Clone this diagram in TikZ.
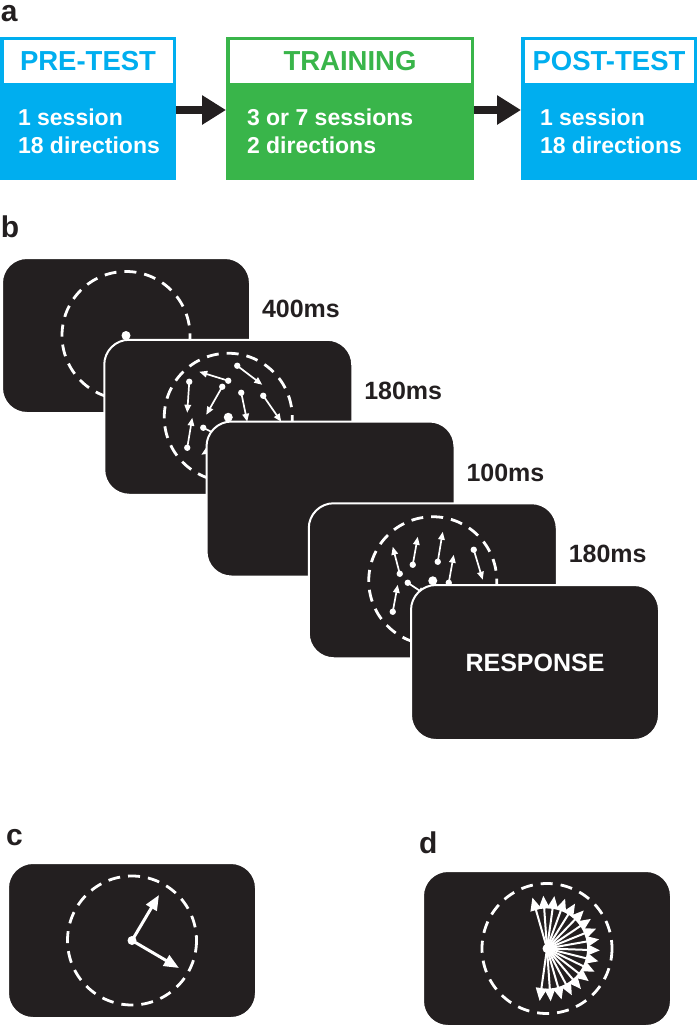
\documentclass[tikz,border=0pt]{standalone}
\usepackage{fontspec}
\setmainfont{Liberation Sans}
\usepackage{tikz}
\usetikzlibrary{arrows.meta,calc,positioning,shapes}
\definecolor{cyanblue}{RGB}{0,174,239}
\definecolor{trgreen}{RGB}{57,181,74}
\definecolor{scrdark}{RGB}{35,31,32}

\begin{document}
\begin{tikzpicture}[x=1pt,y=-1pt,->,>={Triangle[length=8pt,width=6.5pt]},
semithick]
\tikzstyle{every node}=[font=\bfseries,inner sep=0pt,outer sep=0pt]
\tikzstyle{stage}=[minimum height=143pt]
\tikzstyle{header}=[fill=white,minimum height=43pt,font=\fontsize{27.5}{30}\selectfont\bfseries]
\tikzstyle{body}=[text=white,align=left,font=\fontsize{23}{27.5}\selectfont\bfseries]
\tikzstyle{display}=[fill=scrdark,draw=white,line width=2pt,rounded corners=25pt,minimum width=248pt,minimum height=155pt]
\tikzstyle{timing}=[text=scrdark,font=\fontsize{25}{30}\selectfont\bfseries]
\tikzstyle{panel}=[text=scrdark,font=\fontsize{30}{36}\selectfont\bfseries]
\tikzstyle{aperture}=[-,white,line width=2.8pt,dash pattern=on 12pt off 8pt]
\tikzstyle{motion}=[white,line width=1.7pt]
\tikzstyle{stepflow}=[scrdark,line width=8pt,-{Triangle[length=24pt,width=28pt]}]

\useasboundingbox (0,0) rectangle (697,1028);

\node[panel,anchor=base west] (la) at (1,21) {a};
\node[stage,fill=cyanblue,minimum width=176pt] (pretest) at (88,108.5) {};
\node[stage,fill=trgreen,minimum width=248pt,right=50pt of pretest] (training) {};
\node[stage,fill=cyanblue,minimum width=176pt,right=47pt of training] (posttest) {};
\node[header,text=cyanblue,minimum width=169pt,below=3pt of pretest.north] (prehead) {PRE-TEST};
\node[header,text=trgreen,minimum width=241pt,below=3pt of training.north] (trainhead) {TRAINING};
\node[header,text=cyanblue,minimum width=169pt,below=3pt of posttest.north] (posthead) {POST-TEST};
\node[body,anchor=west] (prebody) at ($(pretest.west)+(18,23)$) {1 session\\18 directions};
\node[body,anchor=west] (trainbody) at ($(training.west)+(21,23)$) {3 or 7 sessions\\2 directions};
\node[body,anchor=west] (postbody) at ($(posttest.west)+(19,23)$) {1 session\\18 directions};
\draw[stepflow] ([yshift=-1.5pt]pretest.east) -- ([yshift=-1.5pt]training.west);
\draw[stepflow] ([yshift=-1.5pt]training.east) -- ([yshift=-1.5pt]posttest.west);

\node[panel,anchor=base west] (lb) at (1,237) {b};
\node[display] (scr1) at (126,335.5) {};
\draw[aperture] (scr1.center) circle (64);
\fill[white] (scr1.center) circle (4.5);
\node[timing,right=12pt of scr1.east,yshift=26.5pt] (t1) {400ms};

\node[display] (scr2) at (228.25,417.25) {};
\begin{scope}[shift={(scr2.center)}]
\draw[aperture] (0,0) circle (64);
\fill[white] (0,0) circle (4.5);
\foreach \sx/\sy/\ex/\ey in {9/-51.5/34/-32.5,0/-36.5/-29/-45.5,-39/-35.5/-41/-4.5,
-6/-30.5/-22/-2.5,13/-24.5/19/4.5,35/-21.5/53/4.5,-41/30.5/-36/0.5,-25/10.5/-1/22.5,
-3/22.5/-27/37.5}{
\fill[white] (\sx,\sy) circle (3.2);
\draw[motion] (\sx,\sy) -- (\ex,\ey);
}
\end{scope}
\node[timing,right=12pt of scr2.east,yshift=26.5pt] (t2) {180ms};

\node[display] (scr3) at (330.5,499) {};
\node[timing,right=12pt of scr3.east,yshift=26.5pt] (t3) {100ms};

\node[display] (scr4) at (432.75,580.75) {};
\begin{scope}[shift={(scr4.center)}]
\draw[aperture] (0,0) circle (64);
\fill[white] (0,0) circle (4.5);
\foreach \sx/\sy/\ex/\ey in {-33/-7/-40/-34,-20/-16/-15/-44,5/-19/10/-49,16/2/21/-26,
41/-31/50/-1,-40/31/-35/4,-25/2/-7/14}{
\fill[white] (\sx,\sy) circle (3.2);
\draw[motion] (\sx,\sy) -- (\ex,\ey);
}
\end{scope}
\node[timing,right=12pt of scr4.east,yshift=26.5pt] (t4) {180ms};

\node[display,text=white,font=\fontsize{25}{30}\selectfont\bfseries] (scr5) at (535,662.5) {RESPONSE};

\node[panel,anchor=base west] (lc) at (6,845) {c};
\node[display] (scrc) at (132,940.5) {};
\begin{scope}[shift={(scrc.center)}]
\draw[aperture] (0,0) circle (64.5);
\fill[white] (0,0) circle (4.5);
\draw[white,line width=3pt,-{Triangle[length=15pt,width=12pt]}] (0,0) -- (27,-45.5);
\draw[white,line width=3pt,-{Triangle[length=15pt,width=12pt]}] (0,0) -- (47,27.5);
\end{scope}

\node[panel,anchor=base west] (ld) at (419,853) {d};
\node[display] (scrd) at (547,948.5) {};
\begin{scope}[shift={(scrd.center)}]
\draw[aperture] (0,0) circle (65);
\foreach \a in {-106,-94,...,98}
\draw[white,line width=2pt,-{Triangle[length=13pt,width=11pt]}] (0,0) -- (\a:53);
\fill[white] (0,0) circle (4.5);
\end{scope}
\end{tikzpicture}
\end{document}
